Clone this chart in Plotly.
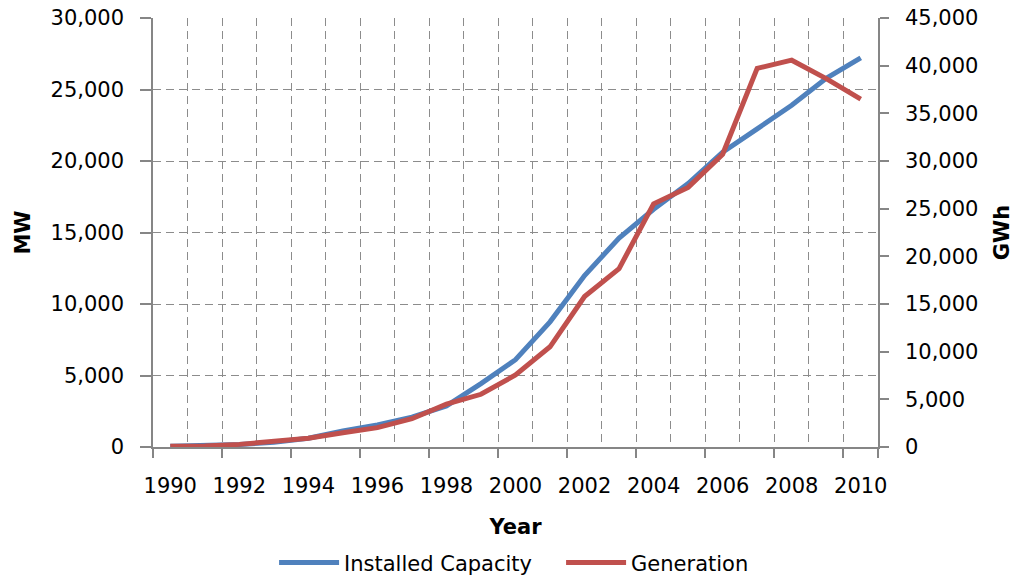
import plotly.graph_objs as go

# wind power, 1990-2010
years = list(range(1990, 2011))
capacity_mw = [55, 106, 174, 326, 618, 1121, 1549, 2089, 2877, 4435, 6104,
               8754, 11994, 14609, 16629, 18428, 20622, 22247, 23897, 25777, 27214]
generation_gwh = [71, 100, 275, 600, 909, 1500, 2032, 2966, 4489, 5528, 7550,
                  10509, 15786, 18713, 25509, 27229, 30710, 39713, 40574, 38639, 36500]
year_labels = [str(y) for y in range(1990, 2011, 2)]

BLUE = '#4F81BD'
RED = '#C0504D'
GRID = '#8C8C8C'
AXIS = '#868686'
FONT = 'DejaVu Sans'

xr = [years[0] - 0.5, years[-1] + 0.5]

fig = go.Figure()
fig.add_trace(go.Scatter(x=years, y=capacity_mw, mode='lines', name='Installed Capacity',
                         line=dict(color=BLUE, width=5), xaxis='x', yaxis='y'))
fig.add_trace(go.Scatter(x=years, y=generation_gwh, mode='lines', name='Generation',
                         line=dict(color=RED, width=5), xaxis='x', yaxis='y2'))

fig.update_layout(
    width=1024, height=586,
    # fixed plot box: don't let the legend push the margins
    margin=dict(l=153, r=146, t=18, b=139, autoexpand=False),
    paper_bgcolor='white', plot_bgcolor='white',
    font=dict(family=FONT, size=21, color='#000000'),
    showlegend=True,
    legend=dict(orientation='h', x=0.167, xanchor='left', y=-0.27, yanchor='middle',
                font=dict(size=21), itemwidth=60, entrywidth=212),
    # tick marks every two years on category boundaries, dashed grid on every boundary
    xaxis=dict(range=xr, tickvals=[y - 0.5 for y in years[::2]] + [years[-1] + 0.5],
               showticklabels=False, ticks='outside', ticklen=9, tickcolor=AXIS, tickwidth=1.5,
               showgrid=False, showline=True, linecolor=AXIS, linewidth=1.5, zeroline=False,
               automargin=False,
               minor=dict(tick0=xr[0], dtick=1, showgrid=True, gridcolor=GRID,
                          griddash='8px,5px', gridwidth=1)),
    # labels at category centres
    xaxis2=dict(range=xr, overlaying='x', side='bottom', tickvals=years[::2], ticktext=year_labels,
                ticks='outside', ticklen=20, tickcolor='rgba(0,0,0,0)', showgrid=False,
                showline=False, zeroline=False, automargin=False,
                title=dict(text='<b>Year</b>', font=dict(size=21), standoff=22)),
    yaxis=dict(range=[0, 30000], dtick=5000, tickformat=',', ticks='outside', ticklen=11,
               tickcolor=AXIS, tickwidth=1.5, showline=True, linecolor=AXIS, linewidth=1.5,
               showgrid=True, gridcolor=GRID, griddash='8px,5px', gridwidth=1, zeroline=False,
               automargin=False, ticklabeloverflow='allow', ticklabelstandoff=12,
               title=dict(text='<b>MW</b>', font=dict(size=21), standoff=14)),
    yaxis2=dict(range=[0, 45000], dtick=5000, tickformat=',', overlaying='y', side='right',
                ticks='outside', ticklen=9, tickcolor=AXIS, tickwidth=1.5, showline=True,
                linecolor=AXIS, linewidth=1.5, showgrid=False, zeroline=False, automargin=False,
                ticklabeloverflow='allow', ticklabelstandoff=12,
                title=dict(text='<b>GWh</b>', font=dict(size=21), standoff=17)),
)

# invisible helper so the label axis is drawn
fig.add_trace(go.Scatter(x=[years[0]], y=[0], xaxis='x2', yaxis='y', mode='markers',
                         marker=dict(opacity=0), showlegend=False, hoverinfo='skip'))

# drop the default body margin so the figure fills the window exactly
fig.write_html("out.html", config={'displayModeBar': False},
               post_script="document.body.style.margin='0';")
